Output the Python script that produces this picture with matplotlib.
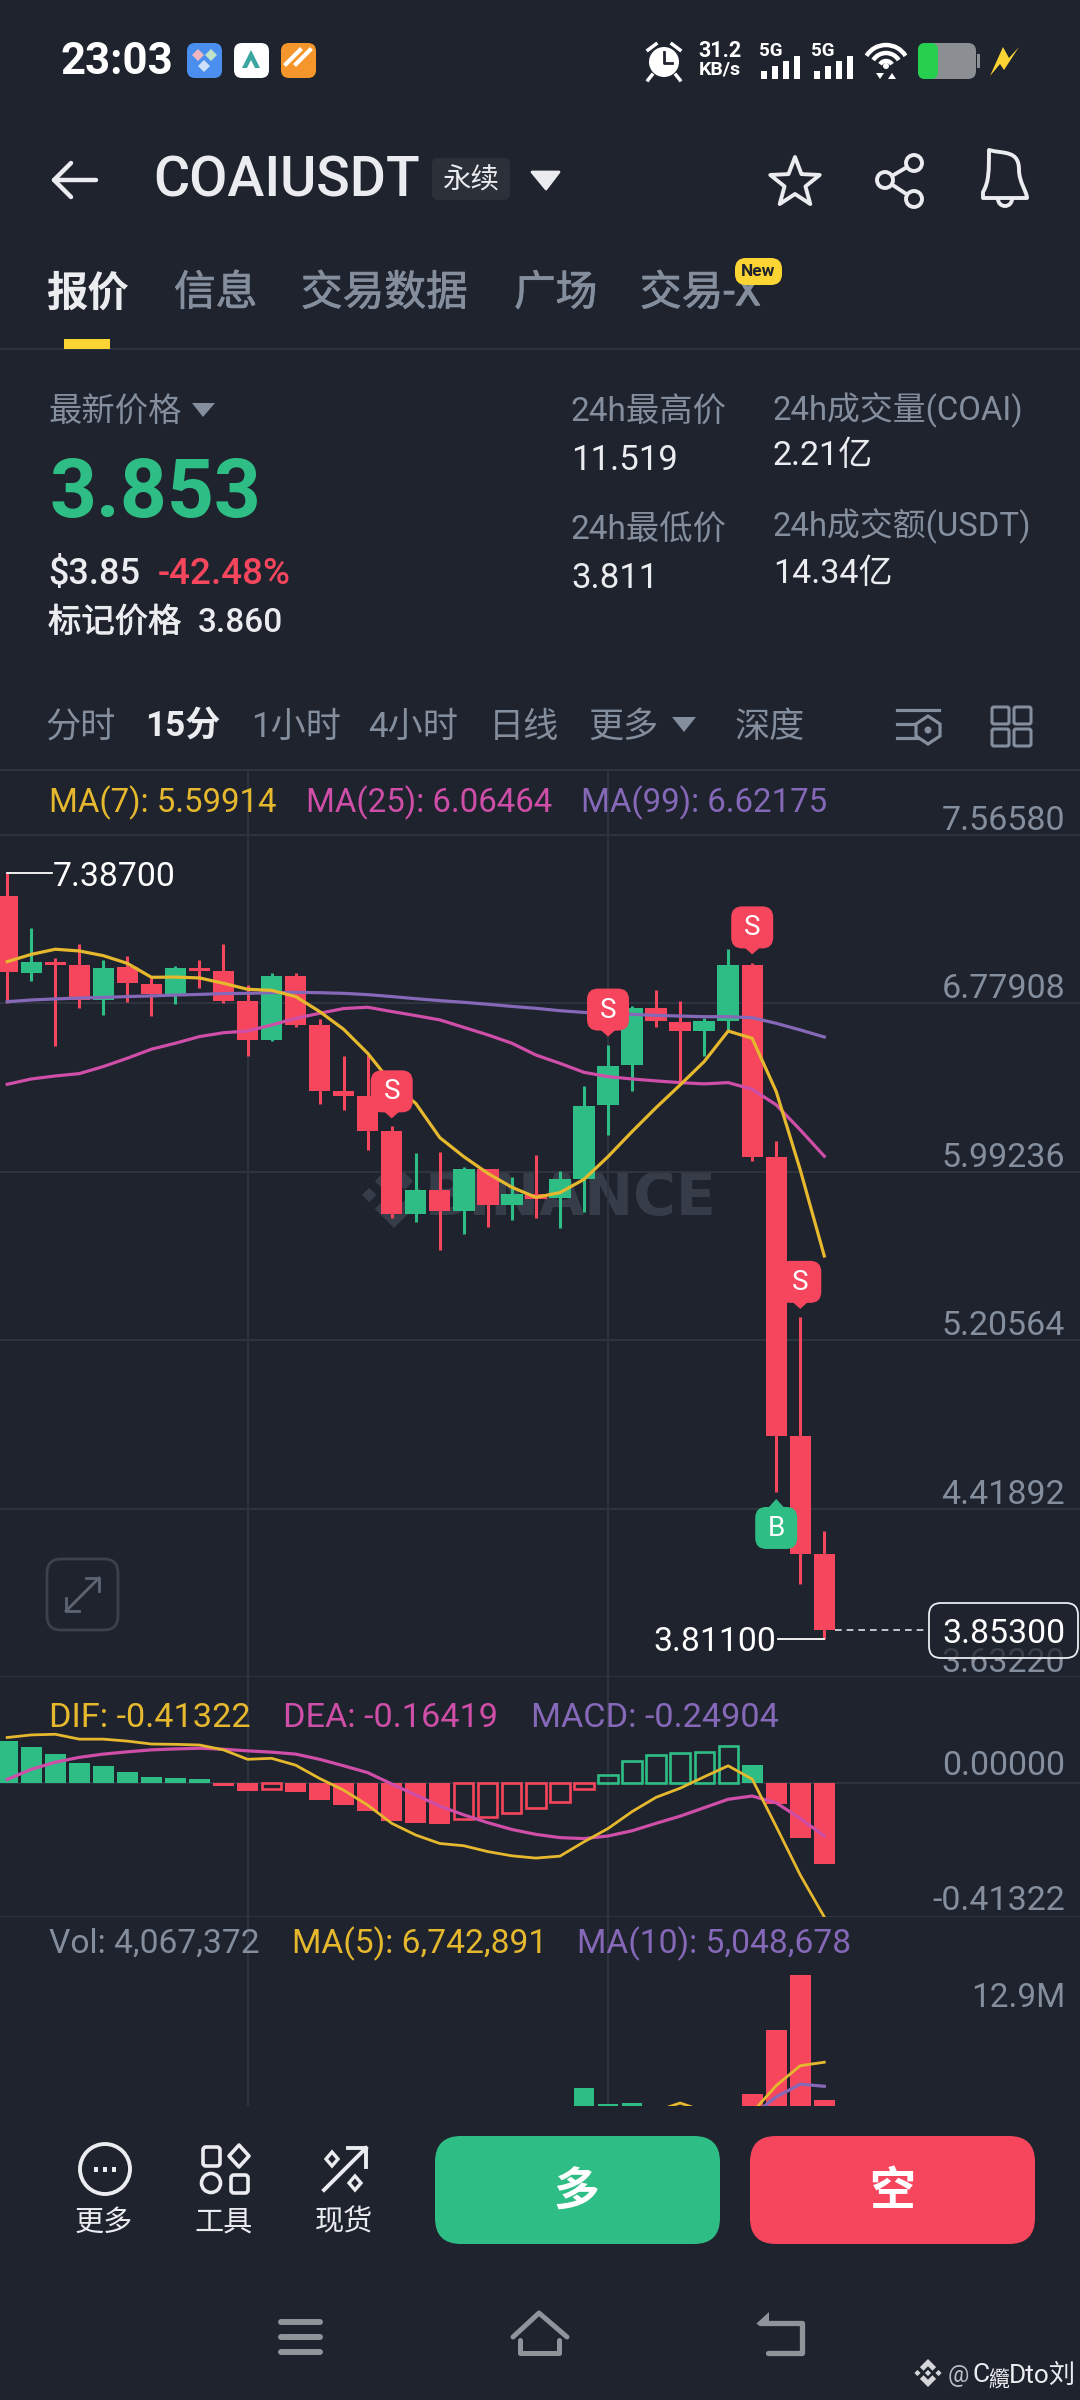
import numpy as np
import matplotlib
matplotlib.use("Agg")
import matplotlib.pyplot as plt
import matplotlib.patheffects as pe
from matplotlib.patches import FancyBboxPatch, Rectangle, Circle, Polygon, Arc, PathPatch
from matplotlib.path import Path

plt.rcParams['font.family'] = ['Roboto', 'Noto Sans CJK SC', 'DejaVu Sans']

# ---------- data ----------
opens  = [7.281,6.920,6.971,6.959,6.795,6.948,6.870,6.823,6.943,6.932,6.790,6.608,6.907,6.678,6.370,6.348,6.183,5.794,5.909,5.809,6.006,5.836,5.887,5.869,5.957,6.303,6.490,6.759,6.694,6.649,6.698,6.960,6.063,4.758,4.206]
closes = [6.924,6.971,6.959,6.795,6.946,6.873,6.823,6.943,6.930,6.790,6.610,6.906,6.677,6.368,6.348,6.185,5.794,5.909,5.809,6.006,5.836,5.887,5.864,5.957,6.301,6.488,6.759,6.695,6.649,6.695,6.960,6.063,4.758,4.206,3.853]
highs  = [7.387,7.130,6.993,7.057,6.982,7.001,6.896,6.954,6.980,7.057,6.865,6.920,6.920,6.705,6.535,6.538,6.206,6.079,6.083,6.016,6.006,5.970,6.071,5.996,6.395,6.585,6.767,6.842,6.792,6.709,7.033,6.969,6.138,5.314,4.316]
lows   = [6.779,6.885,6.582,6.759,6.723,6.786,6.722,6.776,6.850,6.779,6.534,6.605,6.667,6.308,6.283,6.094,5.778,5.760,5.627,5.702,5.736,5.767,5.778,5.732,5.806,6.164,6.370,6.667,6.406,6.534,6.652,6.045,4.498,4.067,3.811]
ma7    = [6.974,7.008,7.032,7.024,7.002,6.966,6.901,6.902,6.898,6.873,6.845,6.840,6.811,6.741,6.658,6.546,6.406,6.312,6.152,6.063,5.985,5.920,5.873,5.895,5.957,6.063,6.180,6.292,6.398,6.507,6.650,6.616,6.367,6.001,5.599]
ma25   = [6.401,6.426,6.440,6.451,6.484,6.523,6.565,6.593,6.624,6.642,6.650,6.678,6.709,6.733,6.755,6.761,6.741,6.722,6.702,6.667,6.632,6.593,6.538,6.499,6.457,6.437,6.426,6.417,6.409,6.403,6.409,6.378,6.305,6.188,6.065]
ma99   = [6.787,6.795,6.800,6.804,6.807,6.811,6.814,6.818,6.821,6.825,6.826,6.829,6.831,6.829,6.826,6.820,6.811,6.801,6.792,6.784,6.775,6.765,6.756,6.745,6.737,6.731,6.728,6.723,6.720,6.717,6.717,6.712,6.686,6.655,6.622]
price_ticks = [7.56580,6.77908,5.99236,5.20564,4.41892,3.63220]
signals = [(16,'S',6.242),(25,'S',6.624),(31,'S',7.008),(33,'S',5.352),(32,'B',4.464)]
high_mark, high_idx = 7.387, 0
low_mark, low_idx = 3.811, 34
last_price = 3.853

macd = [0.128,0.109,0.089,0.0615,0.050,0.034,0.018,0.015,0.011,-0.010,-0.025,-0.0205,-0.029,-0.054,-0.070,-0.087,-0.118,-0.123,-0.127,-0.113,-0.107,-0.093,-0.077,-0.059,-0.0205,0.024,0.067,0.085,0.090,0.095,0.113,0.054,-0.066,-0.171,-0.249]
dif  = [0.139,0.147,0.149,0.134,0.134,0.128,0.119,0.118,0.116,0.101,0.072,0.075,0.054,0.013,-0.023,-0.069,-0.125,-0.161,-0.187,-0.194,-0.212,-0.225,-0.232,-0.226,-0.182,-0.141,-0.089,-0.045,-0.017,0.018,0.052,0.011,-0.135,-0.284,-0.41322]
dea  = [0.010,0.041,0.063,0.078,0.088,0.095,0.101,0.104,0.106,0.103,0.098,0.094,0.088,0.072,0.052,0.031,-0.004,-0.038,-0.072,-0.099,-0.123,-0.144,-0.159,-0.169,-0.172,-0.164,-0.148,-0.125,-0.103,-0.077,-0.051,-0.041,-0.062,-0.110,-0.16419]
macd_ticks = [0.0, -0.41322]

volume = [3.0,2.6,2.4,2.2,2.1,2.3,2.0,1.9,1.8,2.0,2.4,2.6,2.2,2.9,2.2,2.6,3.3,2.5,2.7,2.9,2.4,1.9,1.7,2.1,4.9,3.8,3.9,2.6,2.4,1.8,3.0,4.5,9.0,12.9,4.067]
vol_ma5  = [2.6,2.5,2.5,2.5,2.4,2.3,2.2,2.2,2.1,2.1,2.1,2.2,2.2,2.3,2.4,2.5,2.6,2.6,2.6,2.7,2.7,2.6,2.4,2.2,2.5,2.8,3.1,3.3,3.87,3.3,2.9,3.2,5.1,6.5,6.743]
vol_ma10 = [2.5,2.5,2.5,2.4,2.4,2.4,2.4,2.3,2.3,2.2,2.2,2.2,2.2,2.2,2.3,2.3,2.3,2.4,2.5,2.5,2.5,2.5,2.5,2.4,2.6,2.7,2.7,2.8,3.0,3.0,2.8,3.0,4.3,5.2,5.049]

# ---------- colours ----------
BG='#1e232e'; GRID='#2f3540'; GREEN='#2ebd85'; RED='#f6465d'; GRAY='#848e9c'; WHITE='#eaecef'
YEL='#e6b82e'; PINK='#cf4ea8'; PUR='#8668b8'; GOLD='#fcd535'

W,H=1080,2400
fig=plt.figure(figsize=(10.8,24),dpi=100,facecolor=BG)

def axes_px(x0,y0,x1,y1,z):
    return fig.add_axes([x0/W,1-y1/H,(x1-x0)/W,(y1-y0)/H],zorder=z)

under=axes_px(0,0,W,H,0); over=axes_px(0,0,W,H,5)
for a in (under,over):
    a.set_xlim(0,W); a.set_ylim(H,0); a.axis('off'); a.patch.set_visible(False)

def T(x,y,s,size,color=WHITE,weight='normal',ha='left',a=over,med=0,**k):
    t=a.text(x,y+0.125*size,s,fontsize=size,color=color,fontweight=weight,ha=ha,va='center',**k)
    if med: t.set_path_effects([pe.withStroke(linewidth=med,foreground=color)])
    return t

XL=(-0.30,44.64)
idx=np.arange(len(opens))
def style(ax,ticks):
    ax.patch.set_visible(False)
    for s in ax.spines.values(): s.set_visible(False)
    ax.set_xlim(*XL)
    ax.set_xticks([10,25]); ax.set_yticks(ticks)
    ax.tick_params(length=0,labelleft=False,labelbottom=False)
    ax.grid(True,color=GRID,lw=1.4); ax.set_axisbelow(True)

def ylabel(ax,v,s,off=17,color=GRAY):
    ax.annotate(s,xy=(1,v),xycoords=('axes fraction','data'),xytext=(-15,off-3),textcoords='offset pixels',
                ha='right',va='center',fontsize=24.5,color=color)

# price panel
ax=axes_px(0,770,W,1677,1); style(ax,price_ticks); ax.set_ylim(3.6322,7.8694)
o,c=np.array(opens),np.array(closes)
cols=[GREEN if c[i]>o[i] else RED for i in idx]
ax.vlines(idx,lows,highs,colors=cols,lw=2.2,zorder=2)
ax.bar(idx,np.maximum(np.abs(c-o),0.008),bottom=np.minimum(o,c),width=0.89,color=cols,zorder=3)
ax.plot(idx,ma99,color=PUR,lw=2.3,zorder=4)
ax.plot(idx,ma25,color=PINK,lw=2.3,zorder=4)
ax.plot(idx,ma7,color=YEL,lw=2.3,zorder=4)
for t in price_ticks: ylabel(ax,t,f'{t:.5f}')

def topx(a,i,p):
    x,y=a.transData.transform((i,p)); return x,H-y

# high / low / last markers
xh,yh=topx(ax,high_idx,high_mark); over.plot([xh,xh+45],[yh,yh],color='#ffffff',lw=1.3)
T(xh+46,874,f'{high_mark:.5f}',24.3,'#ffffff')
xl,yl=topx(ax,low_idx,low_mark); over.plot([xl-46,xl],[yl,yl],color='#ffffff',lw=1.3)
T(xl-48,yl,f'{low_mark:.5f}',24.3,'#ffffff',ha='right')
xc,yc=topx(ax,low_idx,last_price)
over.plot([xc+11,925],[yc,yc],color='#dfe3e8',lw=1.2,dashes=(4,3))
over.add_patch(FancyBboxPatch((936,1603),135,55,boxstyle='round,pad=0,rounding_size=12',fc=BG,ec='none',alpha=0.75,zorder=2))
over.add_patch(FancyBboxPatch((929,1603),149,55,boxstyle='round,pad=0,rounding_size=12',fc='none',ec='#e8ebef',lw=1.3,zorder=3))
T(1065,1631,f'{last_price:.5f}',24.4,'#ffffff',ha='right',zorder=4)

# signal flags
def flag(i,lab,p):
    x,y=topx(ax,i,p); col=RED if lab=='S' else GREEN
    w=42
    if lab=='S': y0=y-48; y1=y-6; tip=[(x-9,y1-2),(x,y),(x+9,y1-2)]
    else: y0=y+8; y1=y+50; tip=[(x-9,y0+2),(x,y),(x+9,y0+2)]
    over.add_patch(FancyBboxPatch((x-w/2,y0),w,y1-y0,boxstyle='round,pad=0,rounding_size=11',fc=col,ec='none',zorder=6))
    over.add_patch(Polygon(tip,fc=col,ec='none',zorder=6))
    T(x,(y0+y1)/2-2,lab,20,'#ffffff',ha='center',zorder=7)
for s in signals: flag(*s)

# exchange logo, used by the chart watermark and the footer tag
def logo(a,x0,y0,s,col,z=1):
    n=lambda pts:[(x0+s*p,y0+s*q) for p,q in pts]
    for pts in ([(0,-1),(.58,-.42),(.32,-.16),(0,-.48),(-.32,-.16),(-.58,-.42)],
                [(0,1),(.58,.42),(.32,.16),(0,.48),(-.32,.16),(-.58,.42)],
                [(0,-.22),(.22,0),(0,.22),(-.22,0)],
                [(-.75,-.22),(-.53,0),(-.75,.22),(-.97,0)],
                [(.75,-.22),(.97,0),(.75,.22),(.53,0)]):
        a.add_patch(Polygon(n(pts),fc=col,ec='none',zorder=z))

logo(under,394,1195,33,'#363c48')
under.text(425,1198,'BINANCE',fontsize=42,color='#363c48',fontweight='bold',ha='left',va='center',family='DejaVu Sans')

# expand button
over.add_patch(FancyBboxPatch((47,1559),71,71,boxstyle='round,pad=0,rounding_size=14',fc='none',ec='#3c424d',lw=2))
over.plot([66,99],[1611,1578],color='#5d6572',lw=2)
over.plot([66,66,79],[1598,1611,1611],color='#5d6572',lw=2)
over.plot([86,99,99],[1578,1578,1591],color='#5d6572',lw=2)

# MACD panel
m=axes_px(0,1677,W,1917,1); style(m,macd_ticks); m.set_ylim(-0.41322,0.3252)
mv=np.array(macd)
for i,v in enumerate(mv):
    col=GREEN if v>0 else RED
    hollow= i>0 and v>mv[i-1]
    m.bar(i,v,width=0.87 if not hollow else 0.8,fc='none' if hollow else col,ec=col,lw=1.9 if hollow else 0,zorder=2)
m.plot(idx,dea,color=PINK,lw=2.3,zorder=3); m.plot(idx,dif,color=YEL,lw=2.0,zorder=3)
ylabel(m,0.0,'0.00000',off=20); ylabel(m,-0.41322,'-0.41322',off=19)

# Volume panel
v=axes_px(0,1917,W,2106,1); style(v,[]); v.set_ylim(3.66,16.97)
v.bar(idx,volume,width=0.87,color=cols,zorder=2)
v.plot(idx[27:],vol_ma10[27:],color=PUR,lw=2.3,zorder=3); v.plot(idx[27:],vol_ma5[27:],color=YEL,lw=2.0,zorder=3)
T(1065,1995,'12.9M',24,GRAY,ha='right')

# legends
for x,s,col in [(49,'MA(7): 5.59914',YEL),(306,'MA(25): 6.06464',PINK),(581,'MA(99): 6.62175',PUR)]: T(x,800,s,23.8,col)
for x,s,col in [(49,'DIF: -0.41322',YEL),(283,'DEA: -0.16419',PINK),(531,'MACD: -0.24904',PUR)]: T(x,1715,s,24.7,col)
for x,s,col in [(49,'Vol: 4,067,372',GRAY),(292,'MA(5): 6,742,891',YEL),(577,'MA(10): 5,048,678',PUR)]: T(x,1941,s,24.2,col)

# horizontal separators
for y in (349,770):
    over.plot([0,W],[y,y],color=GRID,lw=1.4)

# ---------- status bar ----------
T(61,58,'23:03',31.5,'#ffffff','bold')
def rr(x,y,w,h,r,fc,ec='none',lw=0,z=3):
    p=FancyBboxPatch((x,y),w,h,boxstyle=f'round,pad=0,rounding_size={r}',fc=fc,ec=ec,lw=lw,zorder=z); over.add_patch(p); return p
rr(187,43,35,35,8,'#4a8ff0'); rr(234,43,35,35,8,'#ffffff'); rr(281,43,35,35,8,'#f5962c')
for dx,dy,c_ in [(198,55,'#f2b6c0'),(211,55,'#bfe3c8'),(204,66,'#cfe0fa')]:
    over.add_patch(Polygon([(dx-6,dy),(dx,dy-6),(dx+6,dy),(dx,dy+6)],fc=c_,zorder=4))
over.add_patch(Polygon([(251,50),(260,68),(242,68)],fc='#3aa6a0',zorder=4))
over.add_patch(Polygon([(251,60),(255,68),(247,68)],fc='#ffffff',zorder=4))
for k in (0,10):
    over.plot([290+k-4,304+k-4],[64,50],color='#ffffff',lw=3,zorder=4)
# alarm
over.add_patch(Circle((664,62),15,fc='#ffffff',zorder=3))
over.plot([664,664,672],[52,63,63],color=BG,lw=2,zorder=4)
over.plot([648,656],[50,44],color='#ffffff',lw=2.5); over.plot([672,680],[44,50],color='#ffffff',lw=2.5)
over.plot([652,648],[75,80],color='#ffffff',lw=2.5); over.plot([676,680],[75,80],color='#ffffff',lw=2.5)
T(720,49,'31.2',15.5,'#ffffff','bold',ha='center'); T(720,68,'KB/s',14,'#ffffff','bold',ha='center')
for x0,xt in [(761,771),(814,823)]:
    T(xt,49,'5G',13.5,'#ffffff','bold',ha='center')
    for k,h_ in enumerate([8,13,18,23]):
        over.add_patch(Rectangle((x0+k*11,79-h_),5.5,h_,fc='#ffffff',zorder=3))
# wifi
for d_ in (46,30,14):
    over.add_patch(Arc((886,68),d_,d_,theta1=212,theta2=328,color='#ffffff',lw=3.2))
over.add_patch(Circle((886,66),3,fc='#ffffff'))
over.add_patch(Polygon([(876,73),(884,73),(880,79)],fc='#ffffff'))
over.add_patch(Polygon([(888,79),(896,79),(892,73)],fc='#ffffff'))
# battery
rr(918,43,58,36,8,'#8b8e93'); rr(918,43,20,36,7,'#26d04e',z=4); over.add_patch(Rectangle((977,54),3,14,fc='#8b8e93'))
over.add_patch(Polygon([(1003,47),(990,76),(1000,64),(1004,70),(1019,47),(1009,58)],fc=GOLD,zorder=3))

# ---------- header ----------
over.plot([54,96],[180,180],color=WHITE,lw=3.2,solid_capstyle='round')
over.plot([71,54,71],[163,180,197],color=WHITE,lw=3.2,solid_capstyle='round',solid_joinstyle='round')
T(153,176,'COAIUSDT',40,WHITE,'medium')
rr(432,158,78,42,6,'#2b3039')
T(471,178,'永续',20.5,WHITE,ha='center')
over.add_patch(Polygon([(532,172),(559,172),(546,189)],fc=WHITE,joinstyle='round',lw=2,ec=WHITE))
# star
ang=np.deg2rad(-90+np.arange(10)*36); rad=np.where(np.arange(10)%2==0,26,11)
over.add_patch(Polygon(np.c_[795+rad*np.cos(ang),183+rad*np.sin(ang)],fc='none',ec=WHITE,lw=2.8,joinstyle='round'))
# share
pts=[(885,180),(914,163),(914,199)]
over.plot([pts[1][0],pts[0][0],pts[2][0]],[pts[1][1],pts[0][1],pts[2][1]],color=WHITE,lw=2.8)
for p in pts: over.add_patch(Circle(p,8,fc=BG,ec=WHITE,lw=2.8,zorder=4))
# bell
bell=Path([(983,192),(989,182),(989,170),(989,150),(1004,154),(1019,150),(1019,170),(1019,182),(1027,192),(1027,198),(983,198),(983,192)],
          [1,4,4,4,4,4,4,4,4,2,2,79])
over.add_patch(PathPatch(bell,fc='none',ec=WHITE,lw=2.8,joinstyle='round'))
over.add_patch(Arc((1005,199),14,14,theta1=0,theta2=180,color=WHITE,lw=2.8))

# tabs
T(46,290,'报价',29.8,WHITE,'bold')
for x,s in [(174,'信息'),(301,'交易数据'),(514,'广场'),(640,'交易-X')]: T(x,290,s,30,GRAY,med=0.6)
rr(735,258,47,27,11,GOLD,z=5); T(758,270,'New',12.5,'#1e232e','bold',ha='center',zorder=6)
over.add_patch(Rectangle((64,339),46,10,fc=GOLD,zorder=3))

# ---------- quote block ----------
T(48,410,'最新价格',24,GRAY); over.add_patch(Polygon([(192,403),(215,403),(203,417)],fc=GRAY))
T(49,488,'3.853',59,GREEN,'bold')
T(48,571,'$3.85',26,WHITE,'medium'); T(158,571,'-42.48%',26.5,RED,'medium')
T(48,620,'标记价格',24,WHITE,med=0.6); T(198,620,'3.860',24,WHITE,'medium')
for x,y,s,col,fs in [(570,410,'24h最高价',GRAY,24),(571,457,'11.519',WHITE,25),(570,528,'24h最低价',GRAY,24),(571,575,'3.811',WHITE,25),
                  (773,407,'24h成交量(COAI)',GRAY,23.7),(773,453,'2.21亿',WHITE,24.5),(773,523,'24h成交额(USDT)',GRAY,23.7),(773,571,'14.34亿',WHITE,24.5)]:
    T(x,y,s,fs,col)

# ---------- interval bar ----------
for x,s in [(45,'分时'),(251,'1小时'),(368,'4小时'),(489,'日线'),(588,'更多'),(735,'深度')]: T(x,724,s,25.3,GRAY)
T(145,724,'15分',25.3,WHITE,'bold')
over.add_patch(Polygon([(672,717),(696,717),(684,732)],fc=GRAY))
for y,x0,x1 in [(710,897,939),(724,897,918),(738,897,918)]: over.plot([x0,x1],[y,y],color=GRAY,lw=2.3)
over.add_patch(Polygon([(928,716),(940,724),(940,736),(928,744),(916,736),(916,724)],fc=BG,ec=GRAY,lw=2.3,zorder=4))
over.add_patch(Circle((928,730),3.5,fc=GRAY,zorder=5))
for x,y in [(992,707),(1014,707),(992,729),(1014,729)]:
    rr(x,y,17,17,2,'none',GRAY,2.2)

# ---------- bottom bar ----------
over.add_patch(Rectangle((0,2106),W,294,fc=BG,ec='none',zorder=1))
over.add_patch(Circle((105,2169),25,fc='none',ec=WHITE,lw=2.8))
for k in (-9,0,9): over.add_patch(Rectangle((105+k-2.3,2166.5),4.6,5,fc=WHITE))
rr(203,2147,17,19,3,'none',WHITE,2.6); rr(231,2175,17,18,3,'none',WHITE,2.6)
over.add_patch(Polygon([(239,2145),(249,2156),(239,2167),(229,2156)],fc='none',ec=WHITE,lw=2.6,joinstyle='round'))
over.add_patch(Circle((211,2183),9.5,fc='none',ec=WHITE,lw=2.6))
over.plot([324,366],[2190,2148],color=WHITE,lw=2.8)
over.plot([348,366,366],[2148,2148,2167],color=WHITE,lw=2.8)
for x,y in [(332,2159),(355,2183)]:
    over.add_patch(Polygon([(x-6,y),(x,y-7),(x+6,y),(x,y+7)],fc='none',ec=WHITE,lw=2.4))
for x,s in [(104,'更多'),(224,'工具'),(344,'现货')]: T(x,2220,s,21,WHITE,ha='center')
rr(435,2136,285,108,26,GREEN); rr(750,2136,285,108,26,RED)
T(576,2188,'多',33,'#ffffff','bold',ha='center',zorder=6); T(892,2188,'空',33,'#ffffff','bold',ha='center',zorder=6)
NAV='#8f939a'
for y in (2322,2337,2352): over.plot([281,320],[y,y],color=NAV,lw=4.3,solid_capstyle='round')
over.plot([513,539,567],[2337,2313,2337],color=NAV,lw=3.6,solid_joinstyle='round',solid_capstyle='round')
over.plot([520,520,559,559],[2340,2353,2353,2340],color=NAV,lw=3.6,solid_joinstyle='round',solid_capstyle='round')
over.plot([760,802,802,768],[2323,2323,2353,2353],color=NAV,lw=3.8,solid_joinstyle='round',solid_capstyle='round')
over.add_patch(Polygon([(769,2312),(756,2324),(769,2326)],fc=NAV,zorder=3))
logo(over,928,2373,14,'#d4d6da',z=6)
T(948,2373,'@',17,'#b9bcc2',zorder=6)
T(972,2373,'C',19,WHITE,zorder=6)
T(988,2379,'纜',15,WHITE,zorder=6)
T(1009,2373,'Dto刘',19,WHITE,zorder=6)

fig.savefig('out.png',dpi=100,facecolor=BG)
